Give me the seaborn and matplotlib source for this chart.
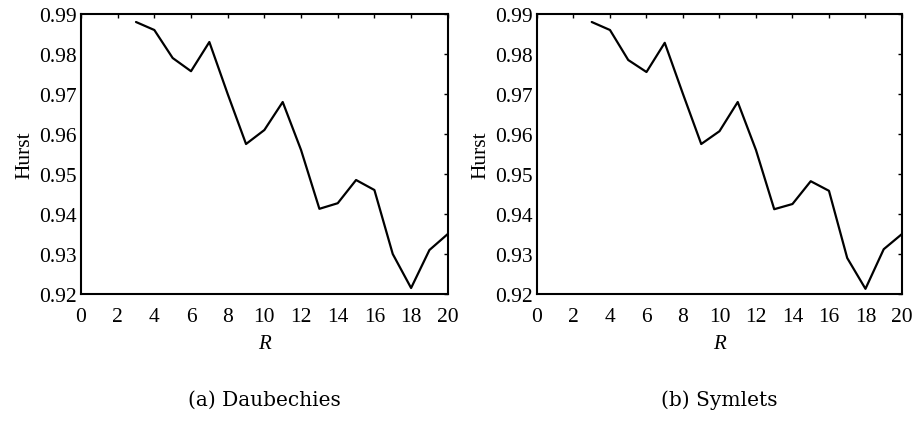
import matplotlib
matplotlib.use("Agg")
import matplotlib.pyplot as plt
import seaborn as sns
import pandas as pd

R = [3, 4, 5, 6, 7, 8, 9, 10, 11, 12, 13, 14, 15, 16, 17, 18, 19, 20]
hurst_db = [0.988, 0.986, 0.979, 0.9757, 0.983, 0.970, 0.9575, 0.961, 0.968, 0.956,
            0.9413, 0.9427, 0.9485, 0.946, 0.930, 0.9215, 0.931, 0.935]
hurst_sym = [0.988, 0.986, 0.9785, 0.9755, 0.9828, 0.970, 0.9575, 0.9607, 0.968, 0.956,
             0.9412, 0.9425, 0.9482, 0.9458, 0.929, 0.9213, 0.9312, 0.935]
xticks = list(range(0, 21, 2))
yticks = [0.92, 0.93, 0.94, 0.95, 0.96, 0.97, 0.98, 0.99]
captions = ["(a) Daubechies", "(b) Symlets"]

sns.set_theme(style="white")
plt.rcParams["font.family"] = ["Liberation Serif", "DejaVu Serif"]
plt.rcParams["text.color"] = "black"
plt.rcParams["axes.labelcolor"] = "black"

fig = plt.figure(figsize=(9.17, 4.35), dpi=100)
boxes = [[0.0883, 0.3218, 0.400, 0.6437], [0.5856, 0.3218, 0.398, 0.6437]]
for box, vals, cap in zip(boxes, [hurst_db, hurst_sym], captions):
    ax = fig.add_axes(box)
    df = pd.DataFrame({"R": R, "Hurst": vals})
    sns.lineplot(data=df, x="R", y="Hurst", ax=ax, color="black", linewidth=1.6)
    ax.set_xlim(0, 20)
    ax.set_ylim(0.92, 0.99)
    ax.set_xticks(xticks)
    ax.set_yticks(yticks)
    ax.set_xticklabels([str(t) for t in xticks])
    ax.set_yticklabels([f"{t:.2f}" for t in yticks])
    ax.tick_params(direction="in", length=3, width=1, top=True, right=True,
                   labelsize=15.5, colors="black", pad=3)
    ax.tick_params(axis="x", pad=9)
    for s in ax.spines.values():
        s.set_color("black")
        s.set_linewidth(1.5)
    ax.set_xlabel("R", fontsize=15, style="italic", labelpad=6, color="black")
    ax.set_ylabel("Hurst", fontsize=15.5, labelpad=3, color="black")
    ax.text(0.5, -0.375, cap, transform=ax.transAxes, ha="center", va="center",
            fontsize=14.5, family=["DejaVu Serif"], color="black")

fig.savefig("out.png", dpi=100, facecolor="white")
